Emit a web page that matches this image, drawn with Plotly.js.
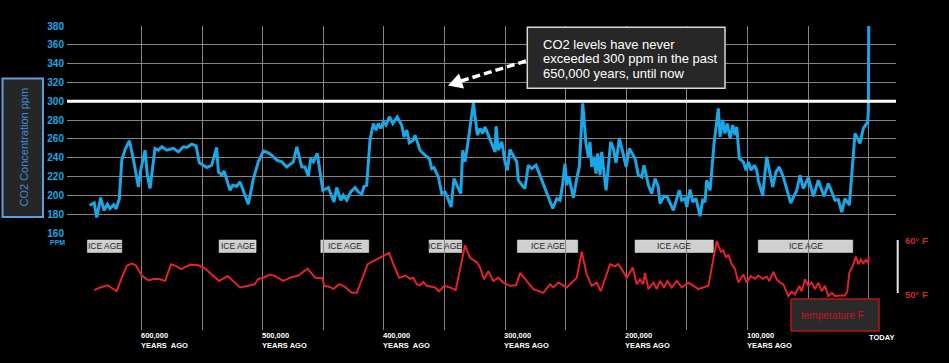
<!DOCTYPE html>
<html>
<head>
<meta charset="utf-8">
<script src="https://cdn.plot.ly/plotly-3.0.1.min.js"></script>
<style>
html,body{margin:0;padding:0;background:#000;}
#chart{width:949px;height:363px;}
</style>
</head>
<body>
<div id="chart"></div>
<script>
// ---- data: CO2 (ppm) by thousands of years ago ----
const co2Kyr = [643,639,637,633.7,631,628.2,626,623,621,618.3,616.3,613.6,610,606.8,602.6,600.7,597.1,595.2,593,588.9,586.1,583.3,579.2,573.7,569.6,565.5,562.7,558.6,555,552.3,549,546.2,542.1,538,536.6,533.8,531.9,527,524.8,521.5,518.7,516,511.9,507.7,503.6,499.5,495.4,492.6,488.4,484.3,480.2,474.7,471.9,467.8,465.1,462.4,460.4,458.2,455,450.5,445.9,441.2,439,435.6,433.5,430.7,427.4,423.8,421.1,418.3,416.4,414.2,411.5,408.7,406.5,404.6,402.6,400.5,398.3,395.5,392.7,389,385.3,383.4,381.2,379,375.7,374.3,370.2,366.1,362.5,360.6,358.7,355.1,352.3,349.6,347.7,344.6,342.2,338.6,336.6,335,333.1,330.4,326.2,322.9,320.7,318.5,316.6,313.9,308.3,307.5,305.6,302.8,300.1,298.2,296,290.4,289.1,285,283.6,280.9,278.1,274.5,271.2,260.7,257.4,254.7,252.5,250.6,249.2,247.3,245,243.7,240.9,238.8,236,233.3,231.4,230,228.6,226.7,225,223.6,221.7,220.3,219,216.7,212.9,210.7,208.5,205.8,203,200.2,197.5,192.8,190.1,187.3,185.4,181.8,179,176.3,173.6,172.2,168.9,166.2,161.2,156.3,154.3,151.6,150.2,147.4,145.2,142.5,139.2,137,135.1,133.7,130.9,127.6,124.1,122.7,120.5,118.6,116.7,114.4,112.2,110.3,108.9,106.8,103.5,101.2,99.3,97.1,94.4,92.4,91.1,87.5,84.2,81.4,79.2,76.5,73.8,70.5,64.4,59.4,56.7,54,49.8,45.7,41.6,36.9,33.3,30.5,27.8,25.1,22.3,19.6,16,11.3,7.2,4.5,0.8,0.3,0];
const co2Ppm = [189.5,192,176.4,197.6,184,190.5,186,190,185.5,196.6,237.4,248.8,258,239,209,226.7,248,221.4,207.3,249.8,248,251.6,248,250,246.2,251.6,250.9,254.4,252.6,234.5,232,229.6,232,250.9,225,221.4,226,205.4,210.7,209.7,214.3,205.4,190.5,217.8,235.6,247.3,245.2,242.7,237.4,235.6,230.2,235.6,251.6,230.2,230.2,220.3,239.2,235.6,244.5,205.4,208.3,193,208.3,194.8,200.1,194.8,203.6,208.3,203.6,201.2,209.7,210.8,258.7,276.4,269.3,276.4,271.1,278.1,274.6,283.5,276.4,283.5,274.6,262.2,269.3,255.8,258.7,264,248,242.7,239.2,228.5,229.6,219.6,201.9,203.6,198.3,187.6,217.9,207.3,201.9,248,235.6,258.7,298.4,264,271.1,265.8,272.8,264,246.2,273.5,248,256.9,235.6,226.7,248.8,235.6,216,208.9,207.3,232,228.5,232,221.4,186,196.6,194.8,212.6,233.8,210.8,219.6,205.4,197.6,217.9,230.2,297.7,255.2,241,256.9,230.2,241,223.2,244.5,221.4,246.2,230.2,205.4,256.9,249.8,234.5,260.5,246.2,230.2,249.8,239.2,221.4,219.6,232,210.8,201.9,217.9,208.9,191.3,199,198.3,184.1,205.4,194.8,196.6,187.6,206.2,193,196.6,177.8,194.8,193,216,205.4,255.2,292.4,262.2,280,265.8,276.4,260.5,274.6,264,272.8,239.2,235.6,226.7,235.6,226.7,232,226.7,216,200.1,241,223.2,208.9,225,230.2,219.6,191.9,205.4,221.4,207.3,218.9,199,216,199,212.6,203.6,194.8,195.5,182.3,196.6,189.5,265.8,255.2,271.1,278.1,290,380];

// ---- data: temperature (deg F) by thousands of years ago ----
const tempKyr = [639,634.2,627.9,620.5,616.3,612.2,608.1,604.8,599.8,594.4,588.9,584.7,580.6,575.7,571.8,567.4,560,553.1,547.6,536,528.9,518.7,511.9,506.4,504.1,499.5,494,489.8,483,477.5,470.6,462.9,456.8,450.8,449.2,444.5,441.7,437,432.1,426.6,422.4,413.4,405.9,395.8,392.2,387.5,382,378.5,375.7,372.9,370.2,367.5,364.7,357.8,354.5,350.2,345.5,340.8,337.2,333.1,329,323.4,320.7,317.4,313.9,309.7,305.6,301.5,296,291,287.7,282.2,276.7,268.5,262.9,260.2,256.1,249.2,240.9,236.8,232.7,228.5,224.4,221.1,213.4,209.3,206.6,203.8,199.7,194.7,191.4,188.7,186,184.6,181.8,177.7,174.9,172.2,168.9,166.2,162.5,158.4,154.3,148.8,140.6,132.3,129.5,125.4,122.1,120,117.7,115.8,113,110.3,107.6,103.5,100.7,97.4,93.8,91.1,87.5,84.2,82,78.7,75.9,73.2,70.5,66.3,63.5,60.8,57.3,55.3,52.6,49.8,47,44.3,41.6,38.8,36.1,33.3,30.5,27.8,23.7,19.6,17.7,16,13.2,10.5,8.6,6.6,4.5,2.2,0.3,0];
const tempF = [50.9,51.4,51.8,50.7,53.2,55.4,55.8,55.5,53.6,52.7,53,52.9,52.6,55.7,55.4,54.8,55.6,55.5,54.9,52.6,53.5,51.4,51.7,52,52.9,53.2,53.8,53.5,52.6,53.2,53.6,54.9,53.2,53.1,51.7,51.5,51.1,52,51.5,50.4,50.4,55.7,56.6,57.8,55.7,53.2,53.6,53,53.2,52,51.8,52.4,51.7,51.4,50.7,51.7,51.4,50.9,54.8,59.2,56.9,56.1,55.1,52.9,54.4,52.6,53.2,52.3,51.7,51.8,54.1,52.6,51.1,50.4,52,51.4,52.3,51.4,53.2,58,53.8,51.7,52.3,50.7,55.7,55.3,55.7,54.8,53.2,55.1,52,52.9,52,54.1,51.1,52.3,51.1,52.6,51.4,52.6,51.4,52.6,51.4,52.3,51.1,51.7,55.4,60,58,58.3,56.9,57.5,55.7,54.8,52.3,53.8,52.3,53.5,53,53.6,53,53.4,52.6,54.3,52.9,52.3,52,49.8,50.6,50.1,51.7,50.7,52.9,51.7,52.3,51.1,52.3,50.7,51.7,49.8,50.4,49.8,49.9,49.9,50.6,54.1,55.4,57.1,55.7,56.6,55.9,56.5,55.9,57.1];

// ---- ice age bands (thousands of years ago) ----
const iceStart = [644.7, 536, 452.1, 362.8, 289.9, 192.8, 91.1];
const iceEnd   = [616.3, 505.5, 412.5, 335.8, 240.1, 128.2, 13.2];
const iceLabel = 'ICE AGE';

// ---- axes / labels ----
const gridKyr = [600,550,500,450,400,350,300,250,200,150,100,50,0];
const labelKyr = [600,500,400,300,200,100];
const labelNum = ['600,000','500,000','400,000','300,000','200,000','100,000'];
const labelSub = ['YEARS  AGO','YEARS AGO','YEARS  AGO','YEARS AGO','YEARS AGO','YEARS AGO'];
const todayLabel = 'TODAY';
const ppmTicks = [160,180,200,220,240,260,280,300,320,340,360,380];
const tempTicks = [50,60];
const tempTickText = ['50° F','60° F'];
const limitPpm = 300;
const noteLines = ['CO2 levels have never','exceeded 300 ppm in the past','650,000 years, until now'];
const co2Title = 'CO2 Concentration ppm';
const tempTitle = 'temperature F';

// ---- geometry helpers (pixel -> paper) ----
const W = 949, H = 363, L = 67, R = 53, T = 26, B = 33;
const pw = W - L - R, ph = H - T - B;
const X = px => (px - L) / pw;
const Y = py => (H - B - py) / ph;

const BLUE = '#1ba6e6';
const RED = '#e3222c';
const GRID = '#858585';

const traces = [
  {x: tempKyr, y: tempF, xaxis: 'x', yaxis: 'y2', type: 'scatter', mode: 'lines',
   line: {color: RED, width: 2}, hoverinfo: 'skip'},
  {x: co2Kyr, y: co2Ppm, xaxis: 'x', yaxis: 'y', type: 'scatter', mode: 'lines',
   line: {color: BLUE, width: 3}, hoverinfo: 'skip'}
];

const shapes = [];
// 300 ppm reference line
shapes.push({type: 'line', xref: 'paper', x0: 0, x1: 1, yref: 'y', y0: limitPpm, y1: limitPpm,
  line: {color: '#ffffff', width: 3}});
// ice age boxes
for (let i = 0; i < iceStart.length; i++) {
  shapes.push({type: 'rect', xref: 'x', x0: iceStart[i], x1: iceEnd[i], yref: 'paper', y0: Y(252.5), y1: Y(240),
    fillcolor: '#cfcfcf', line: {color: '#e6e6e6', width: 0.5}, layer: 'below'});
}
// note box
shapes.push({type: 'rect', xref: 'paper', yref: 'paper', x0: X(527.3), x1: X(725), y0: Y(88.3), y1: Y(27.3),
  fillcolor: '#272727', line: {color: '#d8d8d8', width: 1.5}});
// dashed arrow + head
shapes.push({type: 'line', xref: 'paper', yref: 'paper', x0: X(526), y0: Y(61), x1: X(461), y1: Y(81),
  line: {color: '#ffffff', width: 3.5, dash: '8px,4px'}});
shapes.push({type: 'path', xref: 'paper', yref: 'paper',
  path: 'M ' + X(448) + ' ' + Y(85.5) + ' L ' + X(464) + ' ' + Y(88.5) + ' L ' + X(459) + ' ' + Y(73.5) + ' Z',
  fillcolor: '#ffffff', line: {color: '#ffffff', width: 0}});
// CO2 title box
shapes.push({type: 'rect', xref: 'paper', yref: 'paper', x0: X(2.5), x1: X(43), y0: Y(217), y1: Y(78.5),
  fillcolor: '#262626', line: {color: '#5d9fdc', width: 2}});
// temperature legend box
shapes.push({type: 'rect', xref: 'paper', yref: 'paper', x0: X(791), x1: X(879), y0: Y(331), y1: Y(299),
  fillcolor: '#2a2a2a', line: {color: '#b8141c', width: 1.5}});
// right white bar
shapes.push({type: 'line', xref: 'paper', yref: 'paper', x0: X(897.7), x1: X(897.7), y0: Y(293), y1: Y(240),
  line: {color: '#e8e8e8', width: 2}});

const annotations = [];
const boldWhite = {family: 'Arial, Liberation Sans, sans-serif', size: 7.5, color: '#ffffff', weight: 'bold'};
for (let i = 0; i < labelKyr.length; i++) {
  annotations.push({x: labelKyr[i], xref: 'x', y: Y(336), yref: 'paper', xanchor: 'left', yanchor: 'middle',
    xshift: -2, borderpad: 0, text: labelNum[i], showarrow: false, font: boldWhite});
  annotations.push({x: labelKyr[i], xref: 'x', y: Y(345.5), yref: 'paper', xanchor: 'left', yanchor: 'middle',
    xshift: -2, borderpad: 0, text: labelSub[i], showarrow: false, font: boldWhite});
}
annotations.push({x: 0, xref: 'x', y: Y(337.5), yref: 'paper', xanchor: 'left', yanchor: 'middle',
  xshift: -1, borderpad: 0, text: todayLabel, showarrow: false, font: boldWhite});
for (let i = 0; i < iceStart.length; i++) {
  annotations.push({x: (iceStart[i] + iceEnd[i]) / 2, xref: 'x', y: Y(246.3), yref: 'paper',
    xanchor: 'center', yanchor: 'middle', text: iceLabel, showarrow: false, borderpad: 0,
    font: {family: 'Arial, Liberation Sans, sans-serif', size: 8.5, color: '#262626'}});
}
const noteY = [44, 59, 73.5];
for (let i = 0; i < noteLines.length; i++) {
  annotations.push({x: X(541.5), xref: 'paper', y: Y(noteY[i]), yref: 'paper', xanchor: 'left', yanchor: 'middle',
    text: noteLines[i], showarrow: false, borderpad: 0,
    font: {family: 'Arial, Liberation Sans, sans-serif', size: 13, color: '#ffffff'}});
}
annotations.push({x: X(23), xref: 'paper', y: Y(147.5), yref: 'paper', textangle: -90,
  xanchor: 'center', yanchor: 'middle', text: co2Title, showarrow: false,
  font: {family: 'Arial, Liberation Sans, sans-serif', size: 11, color: '#3d8bd6'}});
annotations.push({x: X(832), xref: 'paper', y: Y(315), yref: 'paper', xanchor: 'center', yanchor: 'middle',
  text: tempTitle, showarrow: false,
  font: {family: 'Arial, Liberation Sans, sans-serif', size: 10, color: '#c8141e'}});
annotations.push({x: X(57), xref: 'paper', y: Y(242), yref: 'paper', xanchor: 'center', yanchor: 'middle',
  text: 'PPM', showarrow: false, borderpad: 0,
  font: {family: 'Arial, Liberation Sans, sans-serif', size: 7, color: BLUE, weight: 'bold'}});

const layout = {
  width: W, height: H,
  margin: {l: L, r: R, t: T, b: B, pad: 0},
  paper_bgcolor: '#000000', plot_bgcolor: '#000000',
  showlegend: false,
  xaxis: {range: [661.5, -22.5], tickvals: gridKyr, showticklabels: false, ticks: '',
    showgrid: true, gridcolor: GRID, gridwidth: 1, zeroline: false, showline: false, fixedrange: true},
  yaxis: {domain: [Y(233), 1], range: [160, 380], tickvals: ppmTicks, ticks: '',
    showgrid: true, gridcolor: GRID, gridwidth: 1, zeroline: false, showline: false,
    tickfont: {family: 'Arial, Liberation Sans, sans-serif', size: 10, color: BLUE, weight: 'bold'},
    ticklabelstandoff: 2},
  yaxis2: {domain: [0, Y(233)], range: [50 - (330 - 295) / 5.4, 60 + (241 - 233) / 5.4], anchor: 'x', side: 'right',
    tickvals: tempTicks, ticktext: tempTickText, ticks: '', showgrid: false, zeroline: false, showline: false,
    tickfont: {family: 'Arial, Liberation Sans, sans-serif', size: 9.5, color: '#d42a2a', weight: 'bold'},
    ticklabelstandoff: 8},
  shapes: shapes,
  annotations: annotations
};

Plotly.newPlot('chart', traces, layout, {staticPlot: true, displayModeBar: false});
</script>
</body>
</html>
